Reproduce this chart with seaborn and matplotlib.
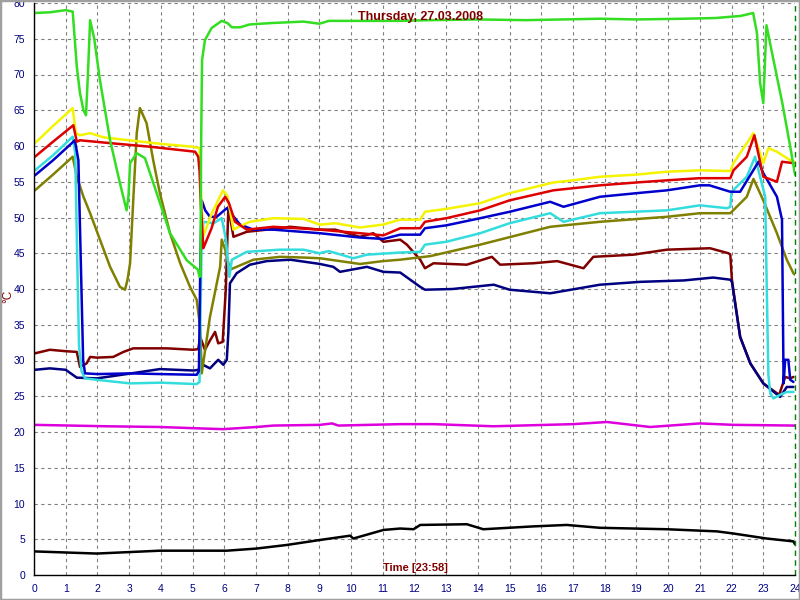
import numpy as np
import pandas as pd
import matplotlib
matplotlib.use("Agg")
import matplotlib.pyplot as plt
from matplotlib.patches import Rectangle
from matplotlib.ticker import MultipleLocator
import seaborn as sns

# temperature curves, time in hours (0-24) and value in deg C
green_t = [0, 0.5, 1.0, 1.22, 1.35, 1.45, 1.56, 1.64, 1.7, 1.77, 1.9, 2.08, 2.4, 2.7, 2.92, 2.98, 3.03, 3.24,
           3.5, 3.87, 4.29, 4.82, 5.17, 5.22, 5.25, 5.27, 5.3, 5.39, 5.6, 5.92, 6.1, 6.24, 6.5, 6.8, 7.5, 8.5,
           9.0, 9.3, 10.5, 11.55, 12.5, 14.0, 15.5, 17.85, 19.0, 20.5, 21.5, 22.3, 22.68, 22.8, 22.9, 23.0,
           23.1, 23.3, 23.6, 23.85, 24.0]
green_v = [78.6, 78.7, 79.0, 78.8, 71.1, 67.4, 65.0, 64.3, 70.0, 77.6, 75.0, 69.2, 60.8, 55.0, 51.0, 53.0, 57.6,
           59.0, 58.3, 53.4, 47.8, 44.0, 42.7, 41.7, 41.8, 60.0, 72.0, 74.8, 76.5, 77.5, 77.2, 76.6, 76.6, 77.0,
           77.2, 77.4, 77.1, 77.5, 77.5, 77.5, 77.6, 77.7, 77.6, 77.8, 77.7, 77.8, 77.9, 78.2, 78.6, 75.8, 68.8,
           66.0, 76.9, 72.5, 66.0, 59.9, 56.0]

yellow_t = [0.03, 0.6, 1.22, 1.32, 1.45, 1.77, 2.2, 3.0, 4.0, 5.0, 5.22, 5.28, 5.33, 5.6, 5.96, 6.1, 6.29, 6.5,
            6.81, 7.55, 8.5, 9.02, 9.5, 10.28, 11.0, 11.55, 12.18, 12.33, 13.0, 14.07, 15.0, 16.38, 17.0, 17.85,
            19.0, 19.96, 21.0, 21.96, 22.06, 22.48, 22.69, 23.0, 23.16, 23.43, 23.85, 24.0]
yellow_v = [60.4, 62.8, 65.3, 61.8, 61.5, 61.8, 61.2, 60.8, 60.3, 59.9, 59.7, 52.0, 47.3, 50.5, 53.8, 53.0, 48.3,
            48.8, 49.4, 49.9, 49.8, 49.0, 49.2, 48.6, 49.0, 49.7, 49.7, 50.8, 51.2, 52.0, 53.4, 54.9, 55.2, 55.7,
            56.0, 56.4, 56.6, 56.5, 57.6, 60.4, 61.8, 57.6, 59.7, 59.2, 58.0, 57.8]

red_t = [0.03, 0.6, 1.24, 1.35, 1.45, 2.4, 3.66, 5.08, 5.18, 5.22, 5.26, 5.34, 5.6, 5.8, 6.03, 6.15, 6.34, 6.71,
         7.55, 9.02, 10.28, 11.02, 11.55, 12.18, 12.33, 13.0, 14.07, 15.0, 16.38, 17.85, 19.0, 19.96, 21.0,
         21.96, 22.06, 22.48, 22.72, 23.0, 23.43, 23.59, 23.95]
red_v = [58.5, 60.6, 62.9, 60.6, 60.8, 60.4, 59.9, 59.2, 58.5, 56.5, 52.0, 45.7, 48.5, 51.5, 52.9, 52.0, 49.4,
         48.3, 48.7, 48.3, 47.8, 47.5, 48.5, 48.5, 49.4, 49.9, 51.0, 52.4, 53.8, 54.5, 54.9, 55.2, 55.5, 55.5,
         56.6, 58.5, 61.5, 55.7, 55.0, 57.8, 57.6]

blue_t = [0.03, 0.6, 1.29, 1.4, 1.47, 1.55, 1.61, 2.0, 3.03, 4.0, 5.13, 5.2, 5.25, 5.29, 5.4, 5.55, 5.76, 6.08,
          6.5, 6.92, 7.55, 9.02, 10.28, 11.02, 11.55, 12.18, 12.33, 13.0, 14.07, 15.0, 16.28, 16.7, 17.85,
          19.0, 19.96, 21.0, 21.3, 21.96, 22.27, 22.85, 23.0, 23.43, 23.59, 23.64, 23.69, 23.79, 23.85, 23.95]
blue_v = [55.9, 58.0, 60.8, 58.0, 45.0, 30.0, 28.2, 28.1, 28.2, 28.1, 28.0, 28.5, 45.0, 52.4, 51.0, 50.1, 50.1,
          51.3, 49.0, 48.3, 48.3, 47.8, 47.2, 47.0, 47.6, 47.6, 48.5, 48.9, 49.9, 50.8, 52.2, 51.5, 52.9, 53.4,
          53.8, 54.5, 54.5, 53.6, 53.6, 57.8, 56.2, 52.9, 49.7, 26.8, 30.1, 30.1, 27.3, 27.0]

cyan_t = [0.03, 0.6, 1.22, 1.3, 1.36, 1.42, 1.5, 1.61, 1.98, 3.03, 4.0, 5.13, 5.22, 5.28, 5.34, 5.66, 5.92, 6.05,
          6.16, 6.24, 6.71, 7.76, 8.5, 9.0, 9.3, 10.07, 10.5, 11.55, 12.18, 12.33, 13.0, 14.07, 15.0, 16.28,
          16.7, 17.85, 19.96, 21.0, 21.86, 21.96, 22.0, 22.48, 22.74, 22.9, 23.06, 23.11, 23.16, 23.22, 23.32,
          23.53, 23.74, 23.95]
cyan_v = [56.6, 58.7, 61.3, 59.0, 45.0, 32.0, 28.5, 27.5, 27.3, 26.8, 26.9, 26.7, 27.0, 45.0, 49.4, 49.2, 49.9,
          47.0, 41.7, 44.1, 45.2, 45.5, 45.5, 45.0, 45.3, 44.3, 44.8, 45.1, 45.2, 46.2, 46.6, 47.8, 49.2, 50.6,
          49.4, 50.6, 51.0, 51.7, 51.3, 51.5, 53.6, 55.7, 58.5, 55.7, 52.9, 40.0, 28.0, 25.4, 24.7, 25.2, 25.6,
          25.6]

olive_t = [0.03, 0.6, 1.22, 1.35, 1.56, 1.77, 2.08, 2.4, 2.71, 2.87, 2.95, 3.03, 3.13, 3.24, 3.34, 3.55, 3.76,
           3.97, 4.29, 4.61, 4.92, 5.13, 5.24, 5.29, 5.55, 5.87, 5.92, 6.03, 6.18, 6.39, 6.92, 7.76, 8.5, 9.02,
           10.28, 11.0, 11.55, 12.5, 14.07, 16.28, 17.85, 19.96, 21.0, 21.96, 22.48, 22.69, 23.0, 23.43, 23.74,
           23.95, 24.0]
olive_v = [53.8, 56.0, 58.5, 55.7, 52.9, 50.6, 46.9, 43.1, 40.3, 39.9, 41.3, 43.6, 52.4, 61.8, 65.3, 63.2, 58.0,
           53.4, 47.8, 43.6, 40.3, 38.5, 34.7, 28.2, 36.1, 43.1, 46.9, 45.5, 42.7, 43.1, 44.1, 44.5, 44.4, 44.3,
           43.5, 43.9, 44.1, 44.6, 46.2, 48.7, 49.4, 50.1, 50.6, 50.6, 52.9, 55.4, 52.4, 47.8, 44.1, 42.2, 42.0]

maroon_t = [0.03, 0.5, 1.0, 1.35, 1.45, 1.66, 1.77, 1.98, 2.5, 2.82, 3.13, 4.19, 5.03, 5.18, 5.24, 5.39, 5.55,
            5.71, 5.81, 5.95, 6.05, 6.13, 6.29, 6.71, 7.76, 8.08, 9.02, 9.5, 10.28, 10.7, 11.02, 11.55, 11.76,
            12.18, 12.33, 12.6, 13.65, 14.44, 14.7, 15.75, 16.5, 17.33, 17.64, 18.9, 19.96, 21.32, 21.9, 21.96,
            22.01, 22.27, 22.59, 23.0, 23.5, 23.69, 23.85, 23.95]
maroon_v = [31.0, 31.5, 31.3, 31.2, 29.1, 29.6, 30.5, 30.4, 30.5, 31.2, 31.7, 31.7, 31.5, 31.6, 33.3, 31.5, 32.8,
            34.0, 32.4, 32.6, 40.0, 51.5, 47.3, 48.0, 48.5, 48.7, 48.3, 48.3, 47.3, 47.8, 46.6, 46.9, 46.2, 44.1,
            42.9, 43.6, 43.4, 44.5, 43.4, 43.6, 43.9, 42.9, 44.5, 44.8, 45.5, 45.7, 45.0, 44.8, 41.3, 33.3, 29.6,
            26.8, 25.2, 27.7, 27.5, 27.7]

navy_t = [0.03, 0.5, 1.0, 1.35, 1.98, 2.92, 3.97, 5.03, 5.2, 5.24, 5.55, 5.81, 5.97, 6.08, 6.13, 6.18, 6.39, 6.81,
          7.34, 8.08, 9.02, 9.44, 9.65, 10.5, 11.02, 11.55, 12.18, 12.33, 13.2, 14.5, 15.0, 16.28, 17.85, 19.12,
          20.5, 21.42, 21.96, 22.01, 22.27, 22.59, 23.0, 23.53, 23.74, 23.95]
navy_v = [28.7, 28.9, 28.7, 27.6, 27.5, 28.1, 28.8, 28.6, 28.7, 29.6, 28.9, 30.1, 29.4, 30.1, 34.0, 40.8, 42.2,
          43.4, 43.9, 44.1, 43.5, 43.1, 42.4, 43.1, 42.4, 42.3, 40.3, 39.9, 40.0, 40.6, 39.9, 39.4, 40.6, 41.0,
          41.2, 41.6, 41.3, 41.0, 33.3, 29.6, 26.8, 24.9, 26.3, 26.3]

magenta_t = [0, 2.29, 3.97, 5.24, 5.97, 7.02, 7.55, 9.02, 9.4, 9.6, 11.55, 12.6, 14.49, 17.01, 18.07, 19.43, 21.0,
             22.06, 24.0]
magenta_v = [21.0, 20.8, 20.7, 20.5, 20.4, 20.7, 20.9, 21.0, 21.2, 20.9, 21.1, 21.1, 20.8, 21.1, 21.4, 20.7, 21.2,
             21.0, 20.9]

black_t = [0, 1.98, 3.97, 6.08, 7.02, 7.97, 9.02, 9.97, 10.07, 11.02, 11.55, 11.97, 12.18, 13.65, 14.17, 15.75,
           16.8, 17.85, 19.96, 21.54, 22.06, 23.11, 23.95, 24.0]
black_v = [3.3, 3.0, 3.4, 3.4, 3.7, 4.2, 4.9, 5.5, 5.1, 6.3, 6.5, 6.4, 7.0, 7.1, 6.4, 6.8, 7.0, 6.6, 6.4, 6.1,
           5.8, 5.1, 4.7, 4.3]

series = [
    (black_t, black_v, "#000000"),
    (magenta_t, magenta_v, "#dd00dd"),
    (maroon_t, maroon_v, "#800000"),
    (navy_t, navy_v, "#000080"),
    (olive_t, olive_v, "#808000"),
    (cyan_t, cyan_v, "#33dddd"),
    (blue_t, blue_v, "#0000cc"),
    (yellow_t, yellow_v, "#f4f400"),
    (red_t, red_v, "#dd0000"),
    (green_t, green_v, "#33dd22"),
]

sns.set_style("white")
plt.rcParams["font.family"] = ["Liberation Sans", "DejaVu Sans"]

fig = plt.figure(figsize=(8, 6), dpi=100)
ax = fig.add_axes([34 / 800, 25 / 600, 761 / 800, 572 / 600])

for t, v, col in series:
    df = pd.DataFrame({"t": t, "v": v})
    sns.lineplot(data=df, x="t", y="v", color=col, linewidth=1.8, sort=False,
                 estimator=None, ax=ax)

ax.set_xlim(0, 24)
ax.set_ylim(0, 80)
ax.xaxis.set_major_locator(MultipleLocator(1))
ax.xaxis.set_minor_locator(MultipleLocator(0.2))
ax.yaxis.set_major_locator(MultipleLocator(5))
ax.yaxis.set_minor_locator(MultipleLocator(1))
ax.grid(True, which="major", color="#808080", linestyle=(0, (3, 3)), linewidth=0.8)
ax.tick_params(which="major", direction="out", length=5.5, width=1, colors="black",
               labelcolor="#000080", labelsize=7.5, pad=1)
ax.tick_params(which="minor", direction="out", length=3.5, width=1, colors="black")
for s in ["top", "right"]:
    ax.spines[s].set_visible(False)
for s in ["left", "bottom"]:
    ax.spines[s].set_color("black")
    ax.spines[s].set_linewidth(1)
ax.set_xlabel("")
ax.set_ylabel("")

# dashed end-of-day marker
ax.axvline(24, color="#008000", linestyle=(0, (4, 3)), linewidth=1, clip_on=False)

fig.text(420 / 800, 1 - 17 / 600, "Thursday, 27.03.2008", color="#800000", fontsize=9,
         fontweight="bold", ha="center", va="center")
fig.text(415 / 800, 1 - 568 / 600, "Time [23:58]", color="#800000", fontsize=8,
         fontweight="bold", ha="center", va="center")
fig.text(8 / 800, 1 - 296 / 600, "°C", color="#800000", fontsize=8.5, rotation=90,
         ha="center", va="center")

fig.patches.append(Rectangle((0, 0), 1, 1, transform=fig.transFigure, fill=False,
                             edgecolor="#a0a0a0", linewidth=2.5))

fig.savefig("out.png", dpi=100)
